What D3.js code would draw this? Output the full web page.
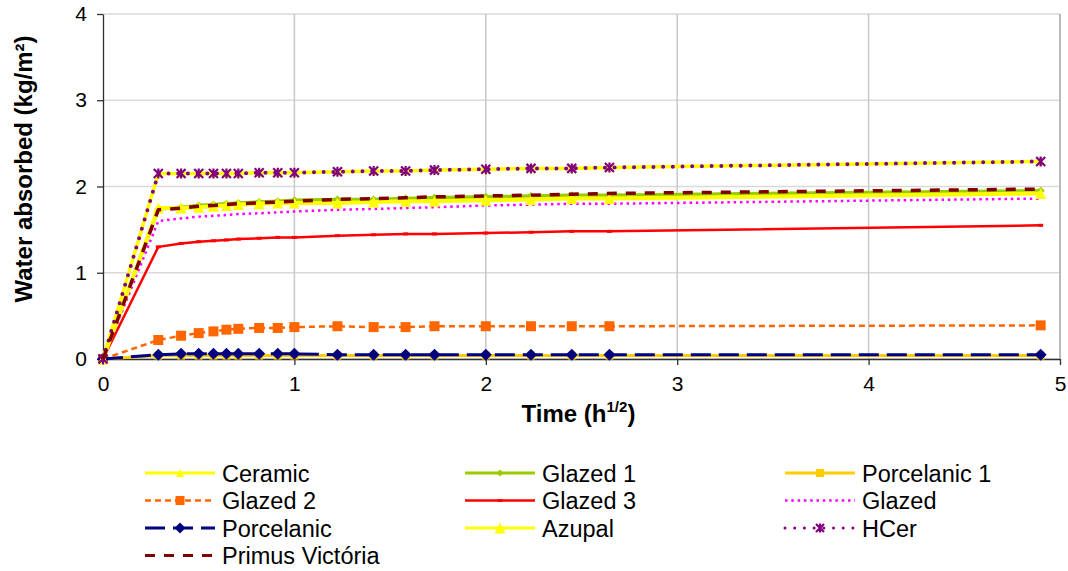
<!DOCTYPE html>
<html>
<head>
<meta charset="utf-8">
<script src="https://cdn.jsdelivr.net/npm/d3@7"></script>
<style>
  body { margin: 0; background: #ffffff; }
  text { font-family: "Liberation Sans", Arial, sans-serif; fill: #000; }
</style>
</head>
<body>
<div id="chart"></div>
<script>
// Measurement times (square root of hours)
var time__Values = [0, 0.289, 0.408, 0.5, 0.577, 0.645, 0.707, 0.816, 0.913, 1, 1.225, 1.414, 1.581, 1.732, 2, 2.236, 2.449, 2.646, 4.899];

// Water absorbed (kg/m2) for each material
var ceramic__Values     = [0, 2.15, 2.15, 2.15, 2.15, 2.15, 2.15, 2.16, 2.16, 2.16, 2.17, 2.18, 2.18, 2.19, 2.20, 2.21, 2.21, 2.22, 2.29];
var glazed1__Values     = [0, 1.74, 1.76, 1.78, 1.79, 1.80, 1.81, 1.82, 1.83, 1.84, 1.85, 1.85, 1.86, 1.87, 1.88, 1.89, 1.90, 1.90, 1.95];
var porcelanic1__Values = [0, 0.04, 0.04, 0.04, 0.04, 0.04, 0.04, 0.04, 0.04, 0.04, 0.04, 0.04, 0.04, 0.04, 0.04, 0.04, 0.04, 0.04, 0.04];
var glazed2__Values     = [0, 0.22, 0.27, 0.30, 0.32, 0.34, 0.35, 0.36, 0.36, 0.37, 0.38, 0.37, 0.37, 0.38, 0.38, 0.38, 0.38, 0.38, 0.39];
var glazed3__Values     = [0, 1.30, 1.34, 1.36, 1.37, 1.38, 1.39, 1.40, 1.41, 1.41, 1.43, 1.44, 1.45, 1.45, 1.46, 1.47, 1.48, 1.48, 1.55];
var glazed__Values      = [0, 1.60, 1.63, 1.65, 1.66, 1.67, 1.68, 1.69, 1.70, 1.71, 1.73, 1.74, 1.75, 1.76, 1.78, 1.79, 1.80, 1.80, 1.86];
var porcelanic__Values  = [0, 0.05, 0.06, 0.06, 0.06, 0.06, 0.06, 0.06, 0.06, 0.06, 0.05, 0.05, 0.05, 0.05, 0.05, 0.05, 0.05, 0.05, 0.05];
var azupal__Values      = [0, 1.75, 1.75, 1.76, 1.77, 1.78, 1.79, 1.80, 1.81, 1.81, 1.81, 1.82, 1.83, 1.83, 1.84, 1.85, 1.86, 1.86, 1.92];
var hcer__Values        = [0, 2.15, 2.15, 2.15, 2.15, 2.15, 2.15, 2.16, 2.16, 2.16, 2.17, 2.18, 2.18, 2.19, 2.20, 2.21, 2.21, 2.22, 2.29];
var primus__Values      = [0, 1.73, 1.75, 1.77, 1.78, 1.79, 1.80, 1.81, 1.82, 1.83, 1.85, 1.86, 1.87, 1.88, 1.89, 1.90, 1.91, 1.92, 1.97];

var series__Names = ["Ceramic", "Glazed 1", "Porcelanic 1", "Glazed 2", "Glazed 3", "Glazed", "Porcelanic", "Azupal", "HCer", "Primus Victória"];
var series__Values = [ceramic__Values, glazed1__Values, porcelanic1__Values, glazed2__Values, glazed3__Values,
  glazed__Values, porcelanic__Values, azupal__Values, hcer__Values, primus__Values];

// Axis ticks
var xTick__Labels = [0, 1, 2, 3, 4, 5];
var yTick__Labels = [0, 1, 2, 3, 4];

// Look of each series (same order as the names); legendSize = marker size in the legend
var series__Styles = [
  { color: "#FFFF00", width: 3.5, dash: null, cap: "butt", marker: "triangle", size: 8, legendSize: 8 },
  { color: "#99CC00", width: 3.5, dash: null, cap: "butt", marker: "diamond", size: 8, legendSize: 7 },
  { color: "#FFCC00", width: 3, dash: null, cap: "butt", marker: "square", size: 8, legendSize: 8 },
  { color: "#FF6600", width: 2.5, dash: "6,4", cap: "butt", marker: "square", size: 10, legendSize: 9 },
  { color: "#FF0000", width: 2.5, dash: null, cap: "butt", marker: "dash", size: 5, legendSize: 5 },
  { color: "#FF00FF", width: 2.5, dash: "2.5,3.8", cap: "butt", marker: null, size: 0, legendSize: 0 },
  { color: "#000080", width: 3, dash: "20,8", cap: "butt", marker: "diamond", size: 12, legendSize: 11 },
  { color: "#FFFF00", width: 4, dash: null, cap: "butt", marker: "triangle", size: 11, legendSize: 11 },
  { color: "#800080", width: 4, dash: "0,9.7", cap: "round", marker: "star", size: 10, legendSize: 9 },
  { color: "#800000", width: 3.5, dash: "10,9", cap: "butt", marker: null, size: 0, legendSize: 0 }
];

// SVG area and plot area
var svg__Width = 1068;
var svg__Height = 571;
var chart__Margin = { top: 14, right: 8, bottom: 212, left: 103 };
var chart__Width = svg__Width - chart__Margin.left - chart__Margin.right;
var chart__Height = svg__Height - chart__Margin.top - chart__Margin.bottom;

var svg = d3.select("#chart")
  .append("svg")
  .attr("width", svg__Width)
  .attr("height", svg__Height);

var chart__Group = svg.append("g")
  .attr("transform", `translate(${chart__Margin.left}, ${chart__Margin.top})`);

var x__Scale = d3.scaleLinear().domain([0, 5]).range([0, chart__Width]);
var y__Scale = d3.scaleLinear().domain([0, 4]).range([chart__Height, 0]);

// Gridlines
chart__Group.append("g").selectAll("line")
  .data(yTick__Labels)
  .enter().append("line")
  .attr("x1", 0).attr("x2", chart__Width)
  .attr("y1", d => y__Scale(d)).attr("y2", d => y__Scale(d))
  .attr("stroke", "#d9d9d9").attr("stroke-width", 1.5);

chart__Group.append("g").selectAll("line")
  .data(xTick__Labels.slice(1))
  .enter().append("line")
  .attr("x1", d => x__Scale(d)).attr("x2", d => x__Scale(d))
  .attr("y1", 0).attr("y2", chart__Height)
  .attr("stroke", "#c8c8c8").attr("stroke-width", 1.5);

// Axes
var left__Axis = d3.axisLeft(y__Scale).tickValues(yTick__Labels).tickFormat(d3.format("d"))
  .tickSize(6).tickSizeOuter(0).tickPadding(10);
var bottom__Axis = d3.axisBottom(x__Scale).tickValues(xTick__Labels).tickFormat(d3.format("d"))
  .tickSize(6).tickSizeOuter(0).tickPadding(11);

var yAxis__Group = chart__Group.append("g").call(left__Axis);
var xAxis__Group = chart__Group.append("g")
  .attr("transform", `translate(0, ${chart__Height})`)
  .call(bottom__Axis);

[yAxis__Group, xAxis__Group].forEach(function(g) {
  g.select(".domain").attr("stroke", "#303030").attr("stroke-width", 1.3);
  g.selectAll(".tick line").attr("stroke", "#303030").attr("stroke-width", 1.3);
  g.selectAll(".tick text")
    .attr("font-family", "Liberation Sans, Arial, sans-serif")
    .attr("font-size", 21).attr("fill", "#000");
});

// Marker shapes
function marker__Path(type, s) {
  var h = s / 2;
  if (type === "triangle") return `M0,${-h}L${h},${h}L${-h},${h}Z`;
  if (type === "diamond") return `M0,${-h}L${h},0L0,${h}L${-h},0Z`;
  if (type === "square") return `M${-h},${-h}H${h}V${h}H${-h}Z`;
  if (type === "dash") return `M${-h},-1.5H${h}V1.5H${-h}Z`;
  if (type === "star") return `M${-h + 0.5},${-h + 0.5}L${h - 0.5},${h - 0.5}M${-h + 0.5},${h - 0.5}L${h - 0.5},${-h + 0.5}M0,${-h}V${h}`;
  return "";
}

function draw__Marker(g, style, size, px, py) {
  if (!style.marker) return;
  var p = g.append("path")
    .attr("d", marker__Path(style.marker, size))
    .attr("transform", `translate(${px},${py})`);
  if (style.marker === "star") {
    p.attr("fill", "none").attr("stroke", style.color).attr("stroke-width", 2.2);
  } else {
    p.attr("fill", style.color).attr("stroke", "none");
  }
}

var line__Gen = d3.line()
  .x(d => x__Scale(d[0]))
  .y(d => y__Scale(d[1]));

// Series: line then markers, in order
series__Values.forEach(function(values, i) {
  var style = series__Styles[i];
  var pts = values.map((v, j) => [time__Values[j], v]);
  var g = chart__Group.append("g");
  g.append("path")
    .datum(pts)
    .attr("d", line__Gen)
    .attr("fill", "none")
    .attr("stroke", style.color)
    .attr("stroke-width", style.width)
    .attr("stroke-linecap", style.cap)
    .attr("stroke-linejoin", "round")
    .attr("stroke-dasharray", style.dash);
  pts.forEach(function(d) {
    draw__Marker(g, style, style.size, x__Scale(d[0]), y__Scale(d[1]));
  });
});

// Right border of plot area
chart__Group.append("line")
  .attr("x1", chart__Width).attr("x2", chart__Width)
  .attr("y1", 0).attr("y2", chart__Height)
  .attr("stroke", "#b0b0b0").attr("stroke-width", 1.5);

// Axis titles
var xTitle = svg.append("text")
  .attr("x", chart__Margin.left + chart__Width / 2 - 3)
  .attr("y", 422)
  .attr("text-anchor", "middle")
  .attr("font-size", 24).attr("font-weight", "bold");
xTitle.append("tspan").text("Time (h");
xTitle.append("tspan").attr("font-size", 15).attr("dy", -10).text("1/2");
xTitle.append("tspan").attr("dy", 10).text(")");

svg.append("text")
  .attr("transform", "translate(31.5, 169) rotate(-90)")
  .attr("text-anchor", "middle")
  .attr("font-size", 24).attr("font-weight", "bold")
  .text("Water absorbed (kg/m²)");

// Legend
var legend__Left = 145;
var legend__ColWidth = 320;
var legend__Top = 473;
var legend__RowHeight = 27.5;

series__Names.forEach(function(name, i) {
  var style = series__Styles[i];
  var col = i % 3;
  var row = Math.floor(i / 3);
  var lx = legend__Left + col * legend__ColWidth;
  var ly = legend__Top + row * legend__RowHeight;
  var g = svg.append("g");
  g.append("line")
    .attr("x1", lx).attr("x2", lx + 70)
    .attr("y1", ly).attr("y2", ly)
    .attr("stroke", style.color)
    .attr("stroke-width", Math.min(style.width, 3))
    .attr("stroke-linecap", style.cap)
    .attr("stroke-dasharray", style.dash);
  draw__Marker(g, style, style.legendSize, lx + 35, ly);
  g.append("text")
    .attr("x", lx + 77)
    .attr("y", ly + 8.5)
    .attr("font-size", 23.5)
    .text(name);
});
</script>
</body>
</html>
